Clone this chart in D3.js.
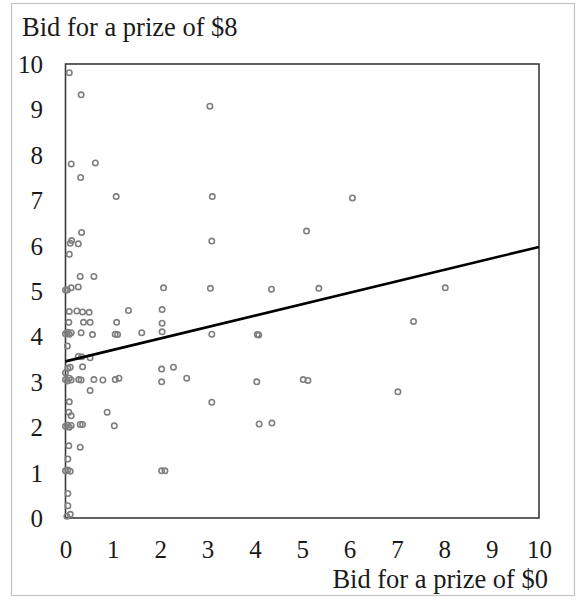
<!DOCTYPE html>
<html>
<head>
<meta charset="utf-8">
<script src="https://cdn.jsdelivr.net/npm/d3@7"></script>
<style>
  html, body { margin: 0; padding: 0; background: #fff; }
  svg { display: block; }
  text { font-family: "Liberation Serif", "Times New Roman", serif; fill: #1a1a1a; }
</style>
</head>
<body>
<svg id="chart" width="576" height="600"></svg>
<script>
// Individual bids: x = bid for a prize of $0, y = bid for a prize of $8
const bidPrize0 = [
  0.08, 0.33, 3.05, 0.12, 0.63, 0.32, 1.07, 3.10, 6.06, 0.34,
  5.09, 0.13, 0.10, 0.27, 3.09, 0.08, 0.31, 0.60, 0.00, 0.04,
  0.12, 0.27, 2.07, 3.06, 4.35, 5.35, 8.02, 0.08, 0.24, 0.36,
  0.50, 1.33, 2.04, 7.35, 0.07, 0.38, 0.52, 1.08, 2.04, 0.00,
  0.04, 0.08, 0.12, 0.33, 0.57, 1.05, 1.10, 1.61, 2.04, 3.09,
  4.05, 4.08, 0.04, 0.27, 0.34, 0.52, 0.05, 0.10, 0.00, 0.36,
  2.03, 2.28, 0.00, 0.04, 0.08, 0.12, 0.28, 0.33, 0.60, 0.79,
  1.05, 1.13, 2.03, 2.56, 4.04, 5.02, 5.12, 0.52, 7.02, 0.08,
  3.09, 0.07, 0.12, 0.88, 0.00, 0.04, 0.08, 0.12, 0.31, 0.36,
  1.03, 4.09, 4.36, 0.07, 0.31, 0.05, 0.00, 0.05, 0.10, 2.03,
  2.10, 0.05, 0.05, 0.10, 0.03
];
const bidPrize8 = [
  9.81, 9.32, 9.07, 7.80, 7.82, 7.50, 7.08, 7.08, 7.05, 6.29,
  6.32, 6.11, 6.05, 6.04, 6.10, 5.81, 5.32, 5.32, 5.02, 5.02,
  5.07, 5.09, 5.07, 5.06, 5.04, 5.06, 5.07, 4.55, 4.56, 4.54,
  4.53, 4.57, 4.59, 4.33, 4.31, 4.31, 4.31, 4.31, 4.29, 4.06,
  4.09, 4.05, 4.08, 4.08, 4.04, 4.05, 4.04, 4.08, 4.10, 4.05,
  4.04, 4.03, 3.79, 3.56, 3.55, 3.53, 3.30, 3.32, 3.20, 3.33,
  3.28, 3.32, 3.05, 3.02, 3.08, 3.04, 3.05, 3.04, 3.05, 3.04,
  3.05, 3.08, 3.00, 3.08, 3.00, 3.05, 3.03, 2.81, 2.78, 2.56,
  2.55, 2.33, 2.25, 2.33, 2.02, 2.05, 2.00, 2.04, 2.06, 2.06,
  2.03, 2.07, 2.09, 1.59, 1.56, 1.30, 1.04, 1.06, 1.03, 1.04,
  1.04, 0.54, 0.27, 0.08, 0.04
];

// Fitted line endpoints (x, y)
const fitX = [0, 10];
const fitY = [3.45, 5.97];

const tickValues = [0, 1, 2, 3, 4, 5, 6, 7, 8, 9, 10];
const yTitle = "Bid for a prize of $8";
const xTitle = "Bid for a prize of $0";

const points = bidPrize0.map((v, i) => ({ x: v, y: bidPrize8[i] }));

const svg = d3.select("#chart");
const plot = { left: 65.5, right: 539, top: 64, bottom: 518 };

const x = d3.scaleLinear().domain([0, 10]).range([plot.left, plot.right]);
const y = d3.scaleLinear().domain([0, 10]).range([plot.bottom, plot.top]);

// Light outer frame around the whole figure
svg.append("rect")
  .attr("x", 11.5).attr("y", 3.5)
  .attr("width", 563).attr("height", 592)
  .attr("fill", "none")
  .attr("stroke", "#c4c4c4")
  .attr("stroke-width", 1.2);

// Axes: labels only, no tick marks
const xAxis = svg.append("g")
  .attr("transform", `translate(0,${plot.bottom})`)
  .call(d3.axisBottom(x).tickValues(tickValues).tickSize(0).tickPadding(0).tickFormat(d3.format("d")));
xAxis.select(".domain").remove();
xAxis.selectAll("text")
  .attr("y", 40)
  .attr("dy", null)
  .attr("font-size", 25)
  .style("font-family", "'Liberation Serif', serif")
  .attr("fill", "#1a1a1a");

const yAxis = svg.append("g")
  .attr("transform", `translate(43,0)`)
  .call(d3.axisLeft(y).tickValues(tickValues).tickSize(0).tickPadding(0).tickFormat(d3.format("d")));
yAxis.select(".domain").remove();
yAxis.selectAll("text")
  .attr("x", 0)
  .attr("dy", "0.34em")
  .attr("font-size", 25)
  .style("font-family", "'Liberation Serif', serif")
  .attr("fill", "#1a1a1a");

// Plot frame
svg.append("rect")
  .attr("x", plot.left).attr("y", plot.top)
  .attr("width", plot.right - plot.left)
  .attr("height", plot.bottom - plot.top)
  .attr("fill", "none")
  .attr("stroke", "#3a3a3a")
  .attr("stroke-width", 1.6);

// Scatter of individual bids
svg.append("g")
  .selectAll("circle")
  .data(points)
  .join("circle")
  .attr("cx", d => x(d.x))
  .attr("cy", d => y(d.y))
  .attr("r", 2.7)
  .attr("fill", "none")
  .attr("stroke", "#7f7f7f")
  .attr("stroke-width", 1.6);

// Fitted regression line
svg.append("line")
  .attr("x1", x(fitX[0])).attr("y1", y(fitY[0]))
  .attr("x2", x(fitX[1])).attr("y2", y(fitY[1]))
  .attr("stroke", "#000")
  .attr("stroke-width", 2.6);

// Axis titles
svg.append("text")
  .attr("x", 22).attr("y", 36)
  .attr("font-size", 26.5)
  .text(yTitle);

svg.append("text")
  .attr("x", 548).attr("y", 588)
  .attr("text-anchor", "end")
  .attr("font-size", 26.5)
  .text(xTitle);
</script>
</body>
</html>
